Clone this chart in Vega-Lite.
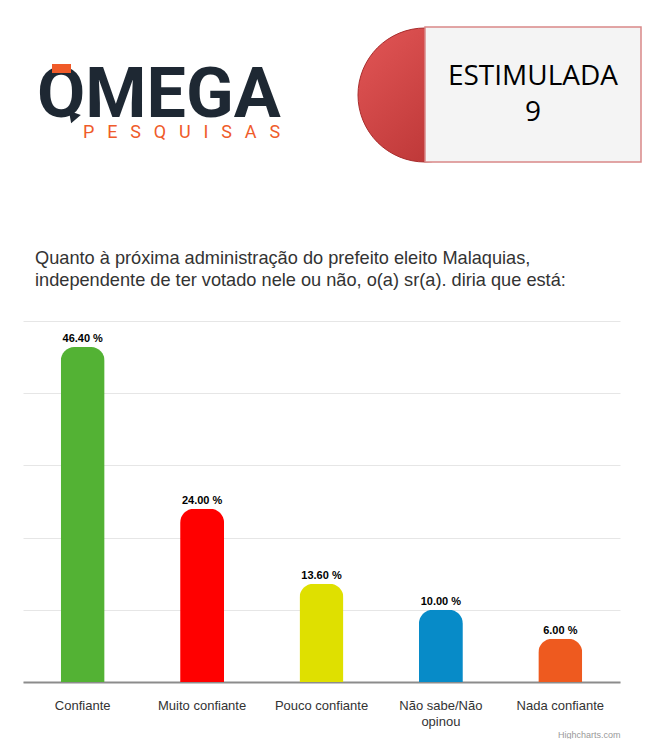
{
  "$schema": "https://vega.github.io/schema/vega-lite/v6.json",
  "padding": 0,
  "spacing": 0,
  "background": "white",
  "config": {"view": {"stroke": null}, "font": "Liberation Sans"},
  "datasets": {
    "bars": [
      {"resposta": "Confiante", "pct": 46.4},
      {"resposta": "Muito confiante", "pct": 24.0},
      {"resposta": "Pouco confiante", "pct": 13.6},
      {"resposta": "Não sabe/Não opinou", "pct": 10.0},
      {"resposta": "Nada confiante", "pct": 6.0}
    ],
    "logo": [{"t": "OMEGA", "x": 37, "y": 117}],
    "logo2": [{"t": "P\u2002\u2009E\u2002\u2009S\u2002\u2009Q\u2002\u2009U\u2002\u2009I\u2002\u2009S\u2002\u2009A\u2002\u2009S", "x": 83, "y": 138}],
    "orangebar": [{"x": 52, "x2": 71, "y": 64, "y2": 73}],
    "tail": [{"x": 73, "y": 118}],
    "semi": [{"x": 425, "y": 95}],
    "box": [{"x": 425, "x2": 641, "y": 27, "y2": 162}],
    "boxtext": [{"t": "ESTIMULADA", "x": 533, "y": 77}, {"t": "9", "x": 533, "y": 113}]
  },
  "vconcat": [
    {
      "width": 640,
      "height": 248,
      "layer": [
        {
          "data": {"name": "semi"},
          "mark": {"type": "point", "shape": "circle", "filled": true, "size": 17956, "opacity": 1,
            "fill": {"gradient": "linear", "x1": 0, "y1": 0, "x2": 1, "y2": 1,
              "stops": [{"offset": 0, "color": "#e25656"}, {"offset": 1, "color": "#b32f2f"}]},
            "stroke": "#a82c2c", "strokeWidth": 1},
          "encoding": {
            "x": {"field": "x", "type": "quantitative", "scale": {"domain": [23, 663], "nice": false, "zero": false}, "axis": null},
            "y": {"field": "y", "type": "quantitative", "scale": {"domain": [0, 248], "nice": false, "zero": false, "reverse": true}, "axis": null}
          }
        },
        {
          "data": {"name": "box"},
          "mark": {"type": "rect", "fill": "#f4f4f4", "stroke": "#d98888", "strokeWidth": 1.5},
          "encoding": {
            "x": {"field": "x", "type": "quantitative"},
            "x2": {"field": "x2"},
            "y": {"field": "y", "type": "quantitative"},
            "y2": {"field": "y2"}
          }
        },
        {
          "data": {"name": "boxtext"},
          "mark": {"type": "text", "font": "Open Sans", "fontSize": 28, "color": "#000000", "align": "center", "baseline": "middle"},
          "encoding": {
            "x": {"field": "x", "type": "quantitative"},
            "y": {"field": "y", "type": "quantitative"},
            "text": {"field": "t"}
          }
        },
        {
          "data": {"name": "logo"},
          "mark": {"type": "text", "font": "Roboto", "fontWeight": "bold", "fontSize": 70, "color": "#1e2833", "align": "left", "baseline": "alphabetic"},
          "encoding": {
            "x": {"field": "x", "type": "quantitative"},
            "y": {"field": "y", "type": "quantitative"},
            "text": {"field": "t"}
          }
        },
        {
          "data": {"name": "tail"},
          "mark": {"type": "point", "shape": "triangle-down", "filled": true, "size": 160, "color": "#1e2833", "opacity": 1, "angle": 20},
          "encoding": {
            "x": {"field": "x", "type": "quantitative"},
            "y": {"field": "y", "type": "quantitative"}
          }
        },
        {
          "data": {"name": "orangebar"},
          "mark": {"type": "rect", "fill": "#f05a28"},
          "encoding": {
            "x": {"field": "x", "type": "quantitative"},
            "x2": {"field": "x2"},
            "y": {"field": "y", "type": "quantitative"},
            "y2": {"field": "y2"}
          }
        },
        {
          "data": {"name": "logo2"},
          "mark": {"type": "text", "font": "Roboto", "fontSize": 18, "color": "#ef5b2a", "align": "left", "baseline": "alphabetic"},
          "encoding": {
            "x": {"field": "x", "type": "quantitative"},
            "y": {"field": "y", "type": "quantitative"},
            "text": {"field": "t"}
          }
        }
      ]
    },
    {
      "width": 597,
      "height": 361,
      "title": {
        "text": ["Quanto à próxima administração do prefeito eleito Malaquias,", "independente de ter votado nele ou não, o(a) sr(a). diria que está:"],
        "anchor": "start", "dx": 35, "fontSize": 18.2, "fontWeight": "normal", "color": "#333333",
        "font": "Liberation Sans", "offset": 31, "lineHeight": 22
      },
      "data": {"name": "bars"},
      "transform": [{"calculate": "format(datum.pct, '.2f') + ' %'", "as": "rotulo"}],
      "encoding": {
        "x": {
          "field": "resposta", "type": "nominal", "sort": null,
          "scale": {"paddingInner": 0, "paddingOuter": 0},
          "axis": {
            "title": "Highcharts.com", "titleAnchor": "end", "titleFontSize": 9, "titleColor": "#999999",
            "titleFontWeight": "normal", "titlePadding": 2, "titleFont": "Liberation Sans",
            "labelAngle": 0, "labelFontSize": 13, "labelColor": "#333333", "labelPadding": 17,
            "labelFont": "Liberation Sans", "labelLineHeight": 16, "labelOverlap": false, "labelLimit": 200,
            "ticks": false, "domainColor": "#8c8c8c", "domainWidth": 2,
            "labelExpr": "datum.label == 'Não sabe/Não opinou' ? ['Não sabe/Não', 'opinou'] : datum.label"
          }
        },
        "y": {
          "field": "pct", "type": "quantitative",
          "scale": {"domain": [0, 50], "nice": false},
          "axis": {"title": null, "labels": false, "ticks": false, "domain": false, "grid": true,
            "gridColor": "#e6e6e6", "values": [0, 10, 20, 30, 40, 50], "minExtent": 23, "maxExtent": 23}
        }
      },
      "layer": [
        {
          "mark": {"type": "bar", "width": 44, "cornerRadiusTopLeft": 14, "cornerRadiusTopRight": 14},
          "encoding": {
            "color": {
              "field": "resposta", "type": "nominal", "legend": null,
              "scale": {
                "domain": ["Confiante", "Muito confiante", "Pouco confiante", "Não sabe/Não opinou", "Nada confiante"],
                "range": ["#53b234", "#ff0000", "#dfe000", "#078bc8", "#ee5a1f"]
              }
            }
          }
        },
        {
          "mark": {"type": "text", "baseline": "bottom", "dy": -3, "fontWeight": "bold", "fontSize": 11, "color": "#000000", "font": "Liberation Sans"},
          "encoding": {"text": {"field": "rotulo"}}
        }
      ]
    }
  ]
}
